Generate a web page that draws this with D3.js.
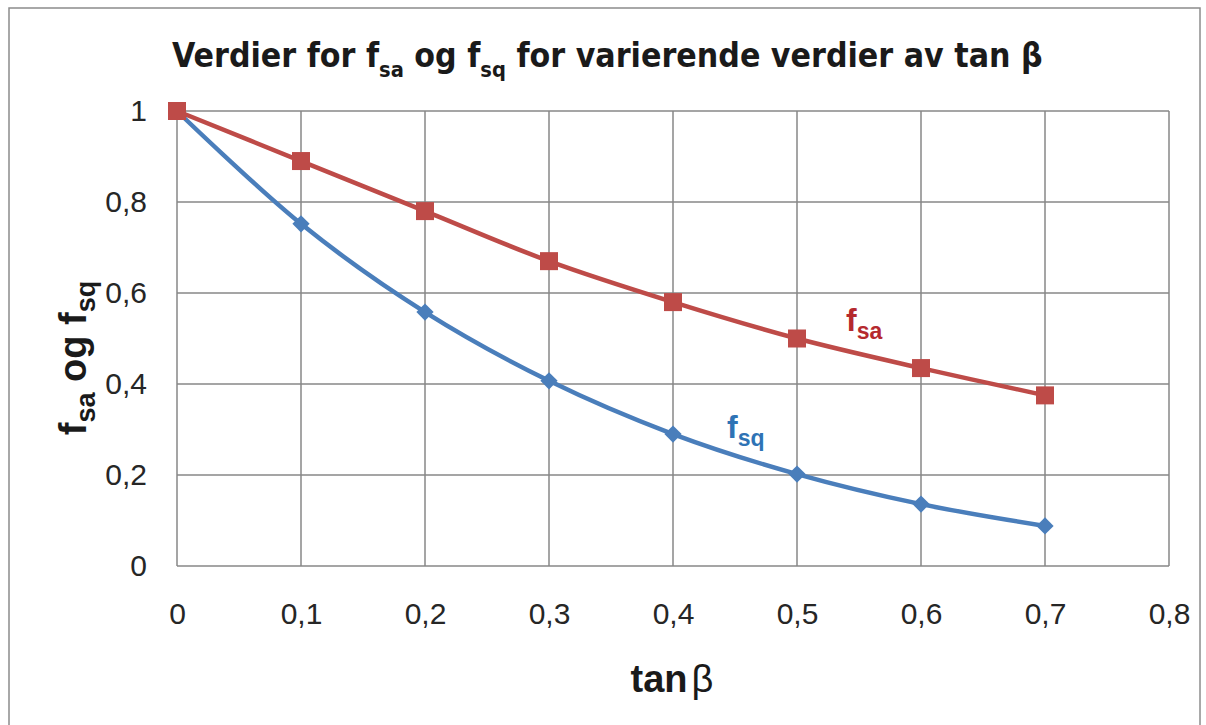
<!DOCTYPE html>
<html>
<head>
<meta charset="utf-8">
<script src="https://cdn.jsdelivr.net/npm/d3@7"></script>
<style>
  body { margin: 0; background: #fff; }
  svg { display: block; }
</style>
</head>
<body>
<div id="chart"></div>
<script>
// values
var tanBeta = [0, 0.1, 0.2, 0.3, 0.4, 0.5, 0.6, 0.7]
var fsa = [1, 0.89, 0.78, 0.67, 0.58, 0.50, 0.435, 0.375]
var fsq = [1, 0.752, 0.558, 0.407, 0.29, 0.202, 0.136, 0.088]
var xTicks = [0, 0.1, 0.2, 0.3, 0.4, 0.5, 0.6, 0.7, 0.8]
var yTicks = [0, 0.2, 0.4, 0.6, 0.8, 1]

var W = 1206, H = 725
var margin = {top: 111, right: 37, bottom: 159, left: 177}
var width = W - margin.left - margin.right
var height = H - margin.top - margin.bottom

var red = "#BE4B48", blue = "#4A7EBB", grid = "#878787"
var comma = function(v){ return d3.format("~g")(v).replace(".", ",") }

var svg = d3.select("#chart").append("svg")
    .attr("width", W)
    .attr("height", H)

// outer frame
svg.append("rect")
    .attr("x", 9).attr("y", 8)
    .attr("width", 1191).attr("height", 740)
    .style("fill", "none")
    .style("stroke", "#8c8c8c")
    .style("stroke-width", 1.5)

var g = svg.append("g")
    .attr("transform", "translate(" + margin.left + "," + margin.top + ")")

var x = d3.scaleLinear().domain([0, 0.8]).range([0, width])
var y = d3.scaleLinear().domain([0, 1]).range([height, 0])

// grid
g.selectAll(".vgrid").data(xTicks).enter().append("line")
    .attr("x1", d => x(d)).attr("x2", d => x(d))
    .attr("y1", 0).attr("y2", height)
    .style("stroke", grid).style("stroke-width", 1.5)
g.selectAll(".hgrid").data(yTicks).enter().append("line")
    .attr("x1", 0).attr("x2", width)
    .attr("y1", d => y(d)).attr("y2", d => y(d))
    .style("stroke", grid).style("stroke-width", 1.5)

// axes (labels only, lines are the grid)
var xAxis = g.append("g")
    .attr("transform", "translate(0," + height + ")")
    .call(d3.axisBottom(x).tickValues(xTicks).tickFormat(comma).tickSize(0).tickPadding(37))
var yAxis = g.append("g")
    .call(d3.axisLeft(y).tickValues(yTicks).tickFormat(comma).tickSize(0).tickPadding(30))
;[xAxis, yAxis].forEach(function(a){
    a.select(".domain").remove()
    a.selectAll("text")
        .style("font-family", "'Liberation Sans', Arial, sans-serif")
        .style("font-size", "30px")
        .style("fill", "#262626")
})

// lines
var line = d3.line()
    .x((d, i) => x(tanBeta[i]))
    .y(d => y(d))
    .curve(d3.curveCatmullRom.alpha(0.5))

g.append("path").datum(fsq)
    .attr("d", line)
    .style("fill", "none").style("stroke", blue).style("stroke-width", 4.5)
g.append("path").datum(fsa)
    .attr("d", line)
    .style("fill", "none").style("stroke", red).style("stroke-width", 4.5)

// markers
g.selectAll(".diamond").data(fsq).enter().append("path")
    .attr("d", d3.symbol().type(d3.symbolDiamond2).size(190))
    .attr("transform", (d, i) => "translate(" + x(tanBeta[i]) + "," + y(d) + ")")
    .style("fill", blue)
g.selectAll(".square").data(fsa).enter().append("rect")
    .attr("x", (d, i) => x(tanBeta[i]) - 9)
    .attr("y", d => y(d) - 9)
    .attr("width", 18).attr("height", 18)
    .style("fill", red)

// series labels
function subLabel(parent, px, py, main, sub, color, size, subSize){
    var t = parent.append("text")
        .attr("x", px).attr("y", py)
        .style("font-family", "'Liberation Sans', Arial, sans-serif")
        .style("font-weight", "bold")
        .style("fill", color)
    t.append("tspan").text(main).style("font-size", size + "px")
    t.append("tspan").text(sub).attr("dy", subSize * 0.35).style("font-size", subSize + "px")
    return t
}
subLabel(svg, 846, 331, "f", "sa", "#B5292E", 32, 23)
subLabel(svg, 727, 438, "f", "sq", "#2E73B5", 32, 23)

// title, squeezed horizontally to the reference width
var title = svg.append("text")
    .style("font-family", "'Liberation Sans Narrow', 'DejaVu Sans Condensed', 'Liberation Sans', sans-serif")
    .style("font-weight", "bold")
    .style("font-size", "34px")
    .style("fill", "#1a1a1a")
var parts = [["Verdier for f", 0], ["sa", 1], [" og f", 0], ["sq", 1], [" for varierende verdier av tan β", 0]]
var prevSub = 0
parts.forEach(function(p){
    var dy = p[1] === prevSub ? 0 : (p[1] ? 10 : -10)
    title.append("tspan").text(p[0])
        .attr("dy", dy)
        .style("font-size", p[1] ? "22px" : "34px")
    prevSub = p[1]
})
var tw = title.node().getComputedTextLength()
title.attr("transform", "translate(172,67) scale(" + (871 / tw) + ",1)")

// axis titles
var xt = svg.append("text")
    .attr("x", 672).attr("y", 692)
    .attr("text-anchor", "middle")
    .style("font-family", "'Liberation Sans Narrow', 'Liberation Sans', sans-serif")
    .style("font-weight", "bold")
    .style("font-size", "38px")
    .style("fill", "#1a1a1a")
xt.append("tspan").text("tan")
xt.append("tspan").text("β").attr("dx", 4).style("font-weight", "normal")

var yt = svg.append("text")
    .attr("transform", "translate(86,358) rotate(-90)")
    .attr("text-anchor", "middle")
    .style("font-family", "'Liberation Sans', Arial, sans-serif")
    .style("font-weight", "bold")
    .style("font-size", "38px")
    .style("fill", "#1a1a1a")
yt.append("tspan").text("f")
yt.append("tspan").text("sa").attr("dy", 9).style("font-size", "27px")
yt.append("tspan").text(" og f").attr("dy", -9)
yt.append("tspan").text("sq").attr("dy", 9).style("font-size", "27px")
</script>
</body>
</html>
